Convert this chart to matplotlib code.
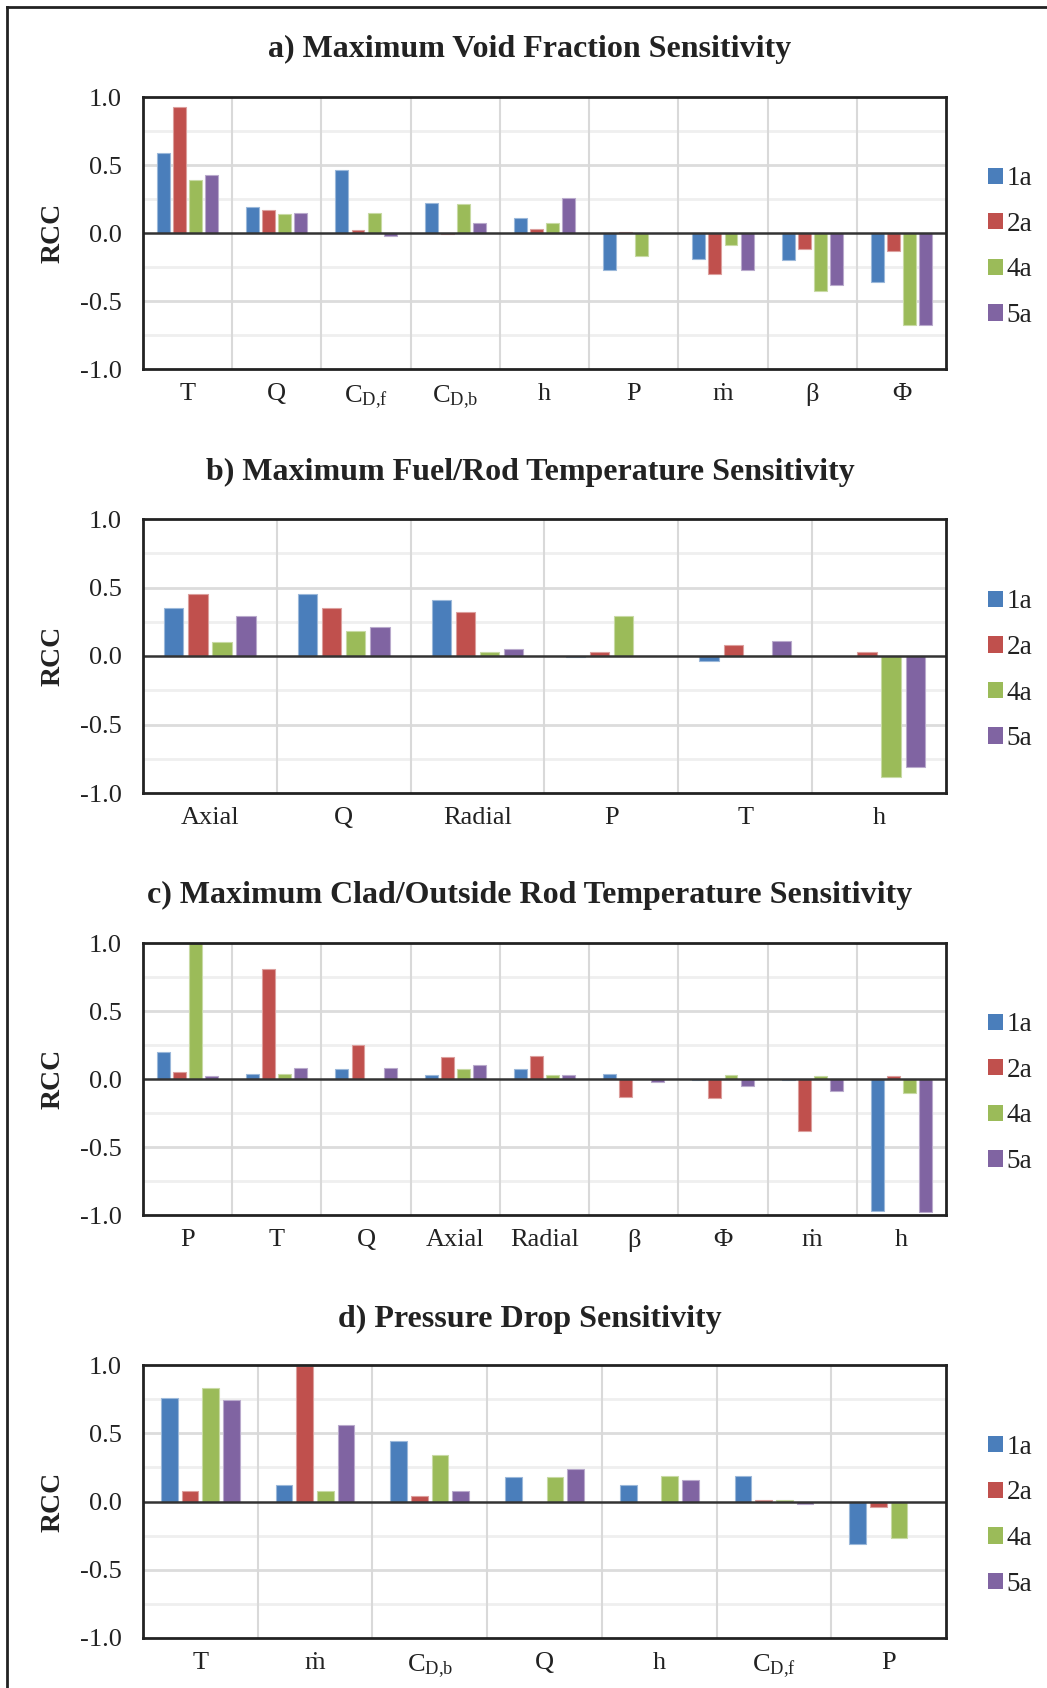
import numpy as np
import matplotlib
matplotlib.use("Agg")
import matplotlib.pyplot as plt
from matplotlib.lines import Line2D
from matplotlib.patches import Patch
import matplotlib.colors as mcolors

plt.rcParams['font.family'] = ['Liberation Serif', 'DejaVu Serif']
plt.rcParams['mathtext.fontset'] = 'custom'
plt.rcParams['mathtext.rm'] = 'Liberation Serif'
plt.rcParams['mathtext.it'] = 'Liberation Serif:italic'

CDF = r'C$_{\mathrm{D{,}f}}$'
CDB = r'C$_{\mathrm{D{,}b}}$'
MDOT = 'ṁ'

series = ['1a', '2a', '4a', '5a']
colors = ['#4a7ebb', '#c0504d', '#9bbb59', '#8064a2']

# a) maximum void fraction
a_title = 'a) Maximum Void Fraction Sensitivity'
a_cats = ['T', 'Q', CDF, CDB, 'h', 'P', MDOT, 'β', 'Φ']
a_1a = [0.59, 0.19, 0.46, 0.22, 0.11, -0.27, -0.19, -0.20, -0.36]
a_2a = [0.93, 0.17, 0.02, -0.01, 0.03, 0.01, -0.30, -0.12, -0.13]
a_4a = [0.39, 0.14, 0.15, 0.21, 0.07, -0.17, -0.09, -0.43, -0.68]
a_5a = [0.43, 0.15, -0.02, 0.07, 0.26, 0.0, -0.27, -0.38, -0.68]

# b) maximum fuel/rod temperature
b_title = 'b) Maximum Fuel/Rod Temperature Sensitivity'
b_cats = ['Axial', 'Q', 'Radial', 'P', 'T', 'h']
b_1a = [0.35, 0.45, 0.41, -0.01, -0.04, 0.0]
b_2a = [0.45, 0.35, 0.32, 0.03, 0.08, 0.03]
b_4a = [0.10, 0.18, 0.03, 0.29, 0.0, -0.88]
b_5a = [0.29, 0.21, 0.05, 0.0, 0.11, -0.81]

# c) maximum clad/outside rod temperature
c_title = 'c) Maximum Clad/Outside Rod Temperature Sensitivity'
c_cats = ['P', 'T', 'Q', 'Axial', 'Radial', 'β', 'Φ', MDOT, 'h']
c_1a = [0.20, 0.04, 0.07, 0.03, 0.07, 0.04, -0.01, -0.01, -0.97]
c_2a = [0.05, 0.81, 0.25, 0.16, 0.17, -0.13, -0.14, -0.38, 0.02]
c_4a = [1.00, 0.04, 0.0, 0.07, 0.03, 0.0, 0.03, 0.02, -0.10]
c_5a = [0.02, 0.08, 0.08, 0.10, 0.03, -0.02, -0.05, -0.09, -0.98]

# d) pressure drop
d_title = 'd) Pressure Drop Sensitivity'
d_cats = ['T', MDOT, CDB, 'Q', 'h', CDF, 'P']
d_1a = [0.76, 0.12, 0.44, 0.18, 0.12, 0.19, -0.31]
d_2a = [0.08, 0.99, 0.04, 0.0, 0.0, 0.01, -0.04]
d_4a = [0.83, 0.08, 0.34, 0.18, 0.19, 0.01, -0.27]
d_5a = [0.74, 0.56, 0.08, 0.24, 0.16, -0.02, 0.0]

W, H = 1047, 1688
fig = plt.figure(figsize=(W / 100, H / 100), dpi=100)

# panel boxes in pixels: (top, bottom) of the plot area, and title centre y
panels = [
    (a_title, a_cats, [a_1a, a_2a, a_4a, a_5a], 97, 369, 49),
    (b_title, b_cats, [b_1a, b_2a, b_4a, b_5a], 519, 793, 472),
    (c_title, c_cats, [c_1a, c_2a, c_4a, c_5a], 943, 1215, 895),
    (d_title, d_cats, [d_1a, d_2a, d_4a, d_5a], 1365, 1638, 1319),
]
left_px, right_px = 143, 946


def lighten(c, amt=0.45):
    r, g, b = mcolors.to_rgb(c)
    return (r + (1 - r) * amt, g + (1 - g) * amt, b + (1 - b) * amt)


for title, cats, vals, top, bot, ty in panels:
    ax = fig.add_axes([left_px / W, 1 - bot / H, (right_px - left_px) / W, (bot - top) / H])
    n = len(cats)
    x = np.arange(n)
    step, bw = 0.18, 0.145
    for k, (v, col) in enumerate(zip(vals, colors)):
        ax.bar(x + (k - 1.5) * step, v, bw, color=col, edgecolor=lighten(col),
               linewidth=0.8, zorder=3, label=series[k])

    ax.set_xlim(-0.5, n - 0.5)
    ax.set_ylim(-1.0, 1.0)
    # gridlines
    for yv in [-0.75, -0.25, 0.25, 0.75]:
        ax.axhline(yv, color='#efefef', lw=2, zorder=1)
    for yv in [-0.5, 0.5]:
        ax.axhline(yv, color='#dcdcdc', lw=2, zorder=1)
    for xv in np.arange(0.5, n - 0.5, 1.0):
        ax.axvline(xv, color='#d9d9d9', lw=1.5, zorder=1)
    ax.axhline(0, color='#333333', lw=1.8, zorder=4)

    ax.set_yticks([-1.0, -0.5, 0.0, 0.5, 1.0])
    ax.set_yticklabels(['-1.0', '-0.5', '0.0', '0.5', '1.0'])
    ax.set_xticks(x)
    ax.set_xticklabels(cats)
    ax.tick_params(axis='both', length=0, labelsize=19, colors='#222222')
    ax.tick_params(axis='y', pad=15)
    ax.tick_params(axis='x', pad=10)
    for s in ax.spines.values():
        s.set_color('#222222')
        s.set_linewidth(2)
        s.set_zorder(5)

    ax.text(-0.112, 0.5, 'RCC', transform=ax.transAxes, rotation=90,
            ha='center', va='center', fontsize=20, fontweight='bold', color='#222222')

    fig.text(530 / W, 1 - ty / H, title, ha='center', va='center',
             fontsize=23, fontweight='bold', color='#222222')

    handles = [Patch(facecolor=c, edgecolor='none') for c in colors]
    ax.legend(handles, series, loc='center left', bbox_to_anchor=(1.052, 0.448),
              frameon=False, fontsize=19.5, handlelength=0.55, handleheight=0.55,
              handletextpad=0.15, labelspacing=0.76, borderpad=0, borderaxespad=0,
              labelcolor='#222222')

# outer frame lines (top and left only)
fig.add_artist(Line2D([7 / W, 1], [1 - 7 / H, 1 - 7 / H], color='#222222', lw=2))
fig.add_artist(Line2D([7 / W, 7 / W], [0, 1 - 7 / H], color='#222222', lw=2))

fig.savefig('out.png', dpi=100)
